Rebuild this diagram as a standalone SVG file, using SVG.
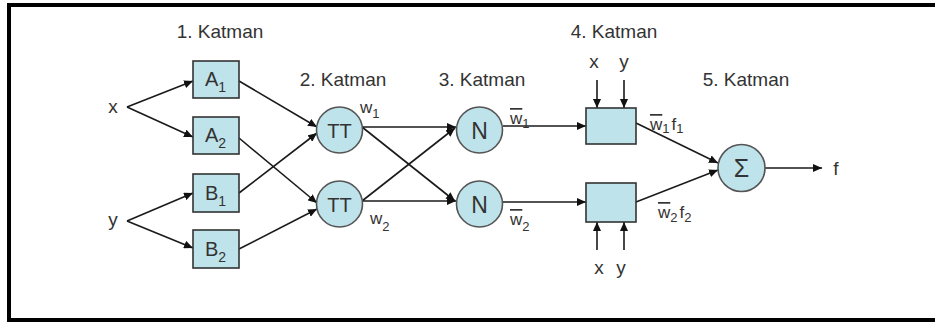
<svg xmlns="http://www.w3.org/2000/svg" width="935" height="323" viewBox="0 0 935 323">
<defs>
<marker id="ah" markerWidth="9" markerHeight="8" refX="9" refY="4" orient="auto" markerUnits="userSpaceOnUse">
<path d="M0,0 L9,4 L0,8 z" fill="#111"/>
</marker>
<style>
text{font-family:"Liberation Sans",Arial,sans-serif;fill:#333}
.lay{font-size:19px;text-anchor:middle}
.inp{font-size:19px;text-anchor:middle}
.nl{font-size:20px}
.sub{font-size:14px}
.wl{font-size:17px}
.wsub{font-size:13px}
.ov{text-decoration:overline}
.box{fill:#BFE3EA;stroke:#333;stroke-width:1.6}
.cir{fill:#BFE3EA;stroke:#555;stroke-width:1.6}
#connectors line{stroke:#1a1a1a;stroke-width:1.6;marker-end:url(#ah)}
</style>
</defs>
<rect x="9" y="5" width="1000" height="315" fill="#fff" stroke="#000" stroke-width="4"/>

<g id="layer-labels">
<text class="lay" x="220" y="38">1. Katman</text>
<text class="lay" x="343" y="86">2. Katman</text>
<text class="lay" x="482" y="86">3. Katman</text>
<text class="lay" x="614" y="38">4. Katman</text>
<text class="lay" x="746" y="86">5. Katman</text>
</g>

<g id="connectors">
<line x1="127" y1="107" x2="193" y2="81"/>
<line x1="127" y1="107" x2="193" y2="137"/>
<line x1="127" y1="221" x2="193" y2="193"/>
<line x1="127" y1="221" x2="193" y2="248"/>
<line x1="239" y1="81" x2="317" y2="127"/>
<line x1="239" y1="138" x2="317" y2="203"/>
<line x1="239" y1="193" x2="317" y2="133"/>
<line x1="239" y1="249" x2="317" y2="209"/>
<line x1="362" y1="127" x2="456" y2="127"/>
<line x1="362" y1="127" x2="455" y2="201"/>
<line x1="362" y1="201" x2="455" y2="128"/>
<line x1="362" y1="201" x2="456" y2="201"/>
<line x1="503" y1="126" x2="586" y2="126"/>
<line x1="503" y1="202" x2="586" y2="202"/>
<line x1="597" y1="80" x2="597" y2="108"/>
<line x1="624" y1="80" x2="624" y2="108"/>
<line x1="597" y1="250" x2="597" y2="222"/>
<line x1="624" y1="250" x2="624" y2="222"/>
<line x1="636" y1="123" x2="718" y2="163"/>
<line x1="636" y1="202" x2="718" y2="170"/>
<line x1="765" y1="168" x2="822" y2="168"/>
</g>

<g id="in-x"><text class="inp" x="113" y="113">x</text></g>
<g id="in-y"><text class="inp" x="113" y="226">y</text></g>

<g id="A1"><rect class="box" x="193" y="61" width="46" height="37"/><text class="nl" x="205" y="86">A<tspan class="sub" dy="6">1</tspan></text></g>
<g id="A2"><rect class="box" x="193" y="117" width="46" height="37"/><text class="nl" x="205" y="142">A<tspan class="sub" dy="6">2</tspan></text></g>
<g id="B1"><rect class="box" x="193" y="174" width="46" height="38"/><text class="nl" x="205" y="200">B<tspan class="sub" dy="6">1</tspan></text></g>
<g id="B2"><rect class="box" x="193" y="230" width="46" height="38"/><text class="nl" x="205" y="256">B<tspan class="sub" dy="6">2</tspan></text></g>

<g id="P1"><circle class="cir" cx="339.5" cy="130" r="23"/><text x="339.5" y="137.5" font-size="20" text-anchor="middle">TT</text></g>
<g id="P2"><circle class="cir" cx="339.5" cy="204" r="23"/><text x="339.5" y="211.5" font-size="20" text-anchor="middle">TT</text></g>
<text class="wl" x="360" y="113">w<tspan class="wsub" dy="5">1</tspan></text>
<text class="wl" x="370" y="224">w<tspan class="wsub" dy="7">2</tspan></text>

<g id="N1"><circle class="cir" cx="479.5" cy="130" r="23"/><text x="479.5" y="139" font-size="23" text-anchor="middle">N</text></g>
<g id="N2"><circle class="cir" cx="479.5" cy="204" r="23"/><text x="479.5" y="213" font-size="23" text-anchor="middle">N</text></g>
<text class="wl" x="510" y="124"><tspan class="ov">w</tspan><tspan class="wsub" dy="4">1</tspan></text>
<text class="wl" x="510" y="225"><tspan class="ov">w</tspan><tspan class="wsub" dy="6">2</tspan></text>

<g id="L4a"><rect class="box" x="586" y="108" width="50" height="36"/></g>
<g id="L4b"><rect class="box" x="586" y="183" width="50" height="39"/></g>
<g id="in4-top"><text class="inp" x="594" y="68">x</text><text class="inp" x="624" y="68">y</text></g>
<g id="in4-bot"><text class="inp" x="599" y="274">x</text><text class="inp" x="621" y="274">y</text></g>
<text class="wl" x="650" y="130"><tspan class="ov">w</tspan><tspan class="wsub" dy="3">1</tspan><tspan dy="-3" dx="2">f</tspan><tspan class="wsub" dy="3">1</tspan></text>
<text class="wl" x="658" y="218"><tspan class="ov">w</tspan><tspan class="wsub" dy="4">2</tspan><tspan dy="-4" dx="2">f</tspan><tspan class="wsub" dy="4">2</tspan></text>

<g id="S"><circle class="cir" cx="741.5" cy="168" r="23.5"/><text x="741.5" y="177" font-size="25" text-anchor="middle">Σ</text></g>
<g id="out-f"><text class="inp" x="836" y="175">f</text></g>
</svg>
